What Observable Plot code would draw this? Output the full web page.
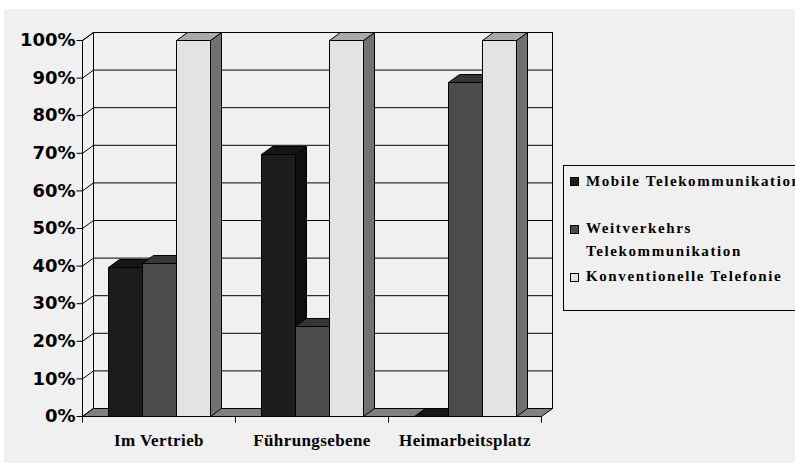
<!DOCTYPE html>
<html>
<head>
<meta charset="utf-8">
<script src="https://cdn.jsdelivr.net/npm/d3@7"></script>
<script src="https://cdn.jsdelivr.net/npm/@observablehq/plot@0.6"></script>
<style>
  html, body { margin: 0; padding: 0; background: #fff; width: 795px; height: 463px; overflow: hidden; position: relative; }
  #bg { position: absolute; left: 4px; top: 9px; right: 0; bottom: 0; background: #f0f0f0; }
  #chart { position: absolute; left: 0; top: 0; }
  #chart .xlab text { letter-spacing: 0.4px; }
  #legend { position: absolute; left: 563px; top: 165px; width: 260px; height: 144px; border: 1px solid #000; background: #f0f0f0;
            font-family: "Liberation Serif", serif; font-weight: bold; font-size: 15px; letter-spacing: 1.6px; color: #000; }
  #legend .txt { position: absolute; left: 22px; white-space: nowrap; line-height: 15px; }
  #legend .sw { position: absolute; left: 6px; width: 7px; height: 7px; border: 1px solid #000; }
</style>
</head>
<body>
<div id="bg"></div>
<div id="chart"></div>
<div id="legend"></div>
<script>
// ---- data ----
const categories = ["Im Vertrieb", "Führungsebene", "Heimarbeitsplatz"];
const series = ["Mobile Telekommunikation", "Weitverkehrs Telekommunikation", "Konventionelle Telefonie"];
const mobile = [0.395, 0.697, 0];
const weitverkehr = [0.406, 0.239, 0.888];
const konventionell = [1.0, 1.0, 1.0];
const yTicks = [0, 0.1, 0.2, 0.3, 0.4, 0.5, 0.6, 0.7, 0.8, 0.9, 1.0];

// ---- styles ----
const frontColors = ["#1c1c1c", "#4b4b4b", "#e3e3e3"];
const topColors = ["#161616", "#363636", "#aaaaaa"];
const sideColors = ["#0f0f0f", "#2f2f2f", "#717171"];
const DX = 11, DY = -8;        // 3D depth offset
const GROUP_PAD = 0.75;        // outer padding per category, in bar widths

const seriesValues = [mobile, weitverkehr, konventionell];
const rows = categories.flatMap((c, i) => series.map((s, j) => ({category: c, series: s, value: seriesValues[j][i]})));

const NS = "http://www.w3.org/2000/svg";
function el(tag, attrs) {
  const e = document.createElementNS(NS, tag);
  for (const k in attrs) e.setAttribute(k, attrs[k]);
  return e;
}
function poly(pts, fill) {
  return el("polygon", {points: pts.map(p => p.join(",")).join(" "), fill, stroke: "#000", "stroke-width": 1});
}
const px = v => Math.round(v) + 0.5;

function leftWall(index, scales) {
  const g = el("g", {});
  const x0 = px(scales.x(categories[0]));
  const yb = px(scales.y(0)), yt = px(scales.y(1));
  g.append(poly([[x0, yb], [x0, yt], [x0 + DX, yt + DY], [x0 + DX, yb + DY]], "#f0f0f0"));
  for (const i of index) {
    const y = scales.y(yTicks[i]) + 0.5;
    g.append(el("line", {x1: x0 - 6, y1: y, x2: x0, y2: y, stroke: "#000"}));
    g.append(el("line", {x1: x0, y1: y, x2: x0 + DX, y2: y + DY, stroke: "#000"}));
  }
  return g;
}

function floor(index, scales) {
  const g = el("g", {});
  const bw = scales.x.bandwidth();
  const x0 = px(scales.x(categories[0]));
  const x1 = px(scales.x(categories[categories.length - 1]) + bw);
  const y = px(scales.y(0));
  g.append(poly([[x0, y], [x1, y], [x1 + DX, y + DY], [x0 + DX, y + DY]], "#808080"));
  const bounds = categories.map(c => scales.x(c)).concat([scales.x(categories[categories.length - 1]) + bw]);
  for (const b of bounds) g.append(el("line", {x1: px(b), y1: y, x2: px(b), y2: y + 6, stroke: "#000"}));
  return g;
}

function bars3d(index, scales, values) {
  const g = el("g", {});
  const bw = scales.x.bandwidth();
  const slot = bw / (series.length + 2 * GROUP_PAD);
  for (const i of index) {
    const d = rows[i];
    const j = series.indexOf(d.series);
    const bx = scales.x(d.category);
    const x1 = px(bx + slot * (GROUP_PAD + j));
    const x2 = px(bx + slot * (GROUP_PAD + j + 1));
    const y0 = px(scales.y(0)), y1 = px(scales.y(d.value));
    g.append(poly([[x2, y1], [x2 + DX, y1 + DY], [x2 + DX, y0 + DY], [x2, y0]], sideColors[j]));
    g.append(poly([[x1, y1], [x2, y1], [x2 + DX, y1 + DY], [x1 + DX, y1 + DY]], topColors[j]));
    g.append(el("rect", {x: x1, y: y1, width: x2 - x1, height: y0 - y1,
      fill: values.fill ? values.fill[i] : frontColors[j], stroke: "#000"}));
  }
  return g;
}

const chart = Plot.plot({
  width: 795, height: 463,
  marginLeft: 93, marginRight: 243, marginTop: 32, marginBottom: 55,
  style: {background: "transparent", overflow: "visible"},
  x: {type: "band", domain: categories, range: [82, 541], padding: 0, round: false, axis: null},
  y: {domain: [0, 1], range: [416, 40], axis: null},
  color: {domain: series, range: frontColors},
  marks: [
    Plot.frame({stroke: "#000"}),
    Plot.ruleY(yTicks, {dy: DY, stroke: "#000"}),
    Plot.ruleY(yTicks, {render: leftWall}),
    Plot.ruleY([0], {render: floor}),
    Plot.barY(rows, {x: "category", y1: () => 0, y2: "value", fill: "series", render: bars3d}),
    Plot.text(yTicks, {y: d => d, text: d => d3.format(".0%")(d), frameAnchor: "left", textAnchor: "end", dx: -18,
      fontFamily: "DejaVu Sans", fontWeight: "bold", fontSize: 18, fill: "#000"}),
    Plot.text(categories, {x: d => d, y: () => 0, text: d => d, dy: 24.5, className: "xlab",
      fontFamily: "Liberation Serif", fontWeight: "bold", fontSize: 17, fill: "#000"})
  ]
});
document.getElementById("chart").append(chart);

// ---- legend (HTML, right side) ----
const legendLines = [
  {sw: 0, swTop: 11, lines: [["Mobile Telekommunikation", 8]]},
  {sw: 1, swTop: 59, lines: [["Weitverkehrs", 55], ["Telekommunikation", 78]]},
  {sw: 2, swTop: 107, lines: [["Konventionelle Telefonie", 103]]}
];
const legend = document.getElementById("legend");
for (const item of legendLines) {
  const sw = document.createElement("div");
  sw.className = "sw";
  sw.style.top = item.swTop + "px";
  sw.style.background = frontColors[item.sw];
  legend.append(sw);
  for (const [t, top] of item.lines) {
    const s = document.createElement("div");
    s.className = "txt";
    s.style.top = top + "px";
    s.textContent = t;
    legend.append(s);
  }
}
</script>
</body>
</html>
